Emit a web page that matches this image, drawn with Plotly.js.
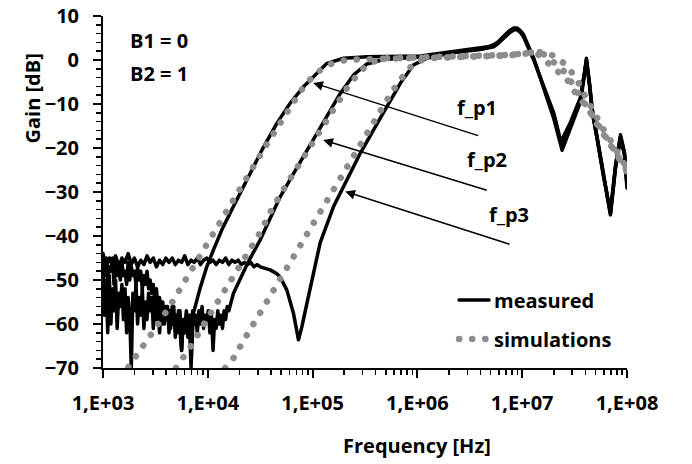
<!DOCTYPE html>
<html>
<head>
<meta charset="utf-8">
<script src="https://cdn.plot.ly/plotly-3.0.1.min.js"></script>
<style>
  html, body { margin: 0; padding: 0; background: #fff; }
  path.js-line { stroke-linecap: round; stroke-linejoin: round; }
</style>
</head>
<body>
<div id="chart" style="width:692px;height:464px;"></div>
<script>
// ---------- DATA ----------
const xTickVals = [1e3, 1e4, 1e5, 1e6, 1e7, 1e8];
const xTickText = ['1,E+03', '1,E+04', '1,E+05', '1,E+06', '1,E+07', '1,E+08'];

// measured, f_p1
const m1Freq = [1000,1035,1072,1109,1148,1189,1230,1274,1318,1365,1413,1462,1514,1567,1622,1679,1738,1799,1862,1928,1995,2065,2138,2213,2291,2371,2455,2541,2630,2723,2818,2917,3020,3126,3236,3350,3467,3589,3715,3846,3981,4121,4266,4416,4571,4732,4898,5070,5248,5433,5623,5821,6026,6237,6457,6683,6918,
  7278,8433,9772,11300,13610,17560,23580,32800,45600,61100,81800,109900,137100,197200,330400,
  1.067e6,1.656e6,2.57e6,3.99e6,4.7e6,5.35e6,6.0e6,6.65e6,7.5e6,8.30e6,8.91e6,9.6e6,1.033e7,1.288e7,1.603e7,2.0e7,2.404e7,2.884e7,3.597e7,3.87e7,4.10e7,4.40e7,4.65e7,5.188e7,6.0e7,6.95e7,7.76e7,8.67e7,9.46e7,1e8];
const m1Gain = [-46,-58,-50,-62,-49,-60,-52,-57,-50,-61,-53,-56,-51,-59,-52,-62,-54,-58,-70,-53,-57,-51,-60,-54,-58,-52,-61,-55,-59,-53,-57,-54,-61,-55,-59,-56,-62,-55,-60,-57,-58,-56,-62,-57,-60,-56,-63,-58,-61,-57,-66,-59,-62,-58,-63,-60,-70,
  -57.6,-51.9,-47,-43.2,-38.6,-33.3,-27.3,-20.5,-14.4,-9.8,-6.1,-3.0,-0.75,0.4,0.75,
  0.9,1.5,2.3,2.7,3.0,3.5,4.3,5.4,6.6,7.3,7.3,6.7,5.7,0.4,-6.4,-13.3,-20.5,-15.5,-9.5,-4.5,0.4,-5.5,-11,-17.5,-26.1,-35.2,-24.6,-17.8,-21.6,-29.1];

// measured, f_p2
const m2Freq = [1000,1035,1072,1109,1148,1189,1230,1274,1318,1365,1413,1462,1514,1567,1622,1679,1738,1799,1862,1928,1995,2065,2138,2213,2291,2371,2455,2541,2630,2723,2818,2917,3020,3126,3236,3350,3467,3589,3715,3846,3981,4121,4266,4416,4571,4732,4898,5070,5248,5433,5623,5821,6026,6237,6457,6683,6918,7161,7413,7674,7943,8222,8511,8810,9120,9441,9772,10116,10471,10839,11220,11614,12023,12445,12882,13335,13804,14289,14791,15311,15849,
  17580,19950,24430,31590,36600,49040,65710,88220,113900,137100,183700,246000,330400,475300,687100,
  1.067e6,1.656e6,2.57e6,3.99e6,4.7e6,5.35e6,6.0e6,6.65e6,7.5e6,8.30e6,8.91e6,9.6e6,1.033e7,1.288e7,1.603e7,2.0e7,2.37e7,2.884e7,3.597e7,3.87e7,4.10e7,4.40e7,4.65e7,5.188e7,6.0e7,6.95e7,7.76e7,8.67e7,9.46e7,1e8];
const m2Gain = [-46,-49,-45,-50,-47,-48,-45,-51,-46,-49,-47,-50,-46,-49,-48,-51,-46,-50,-47,-49,-48,-51,-47,-50,-48,-52,-49,-51,-48,-52,-50,-53,-51,-55,-52,-57,-54,-58,-55,-60,-56,-59,-57,-61,-56,-60,-58,-62,-57,-61,-66,-59,-62,-57,-60,-58,-63,-57,-60,-58,-62,-57,-60,-56,-61,-58,-59,-57,-62,-58,-66,-59,-61,-57,-60,-58,-61,-57,-59,-56,-57,
  -53,-50.3,-45.8,-40.9,-37.5,-31.1,-25.8,-20.5,-16,-12.9,-7.6,-3.4,-0.9,0.1,0.4,
  0.7,1.3,2.0,2.5,2.8,3.2,4.1,5.2,6.4,7.1,7.1,6.5,5.4,0.2,-6.0,-12.5,-19.3,-14.8,-8.8,-4.2,0.0,-5.8,-11.4,-17.8,-26.5,-35.0,-24.4,-17.4,-21.2,-28.5];

// measured, f_p3
const m3Freq = [1000,1072,1148,1230,1318,1413,1514,1622,1738,1862,1995,2138,2291,2455,2630,2818,3020,3236,3467,3715,3981,4266,4571,4898,5248,5623,6026,6457,6918,7413,7943,8511,9120,9772,10471,11220,12023,12882,13804,14791,15849,16982,18197,19498,20893,22387,23988,25704,27542,29512,31623,
  39360,45600,49040,56830,65710,73330,79070,88220,102000,118200,158500,212700,284900,381700,512500,686600,919800,1.235e6,
  1.656e6,2.57e6,3.99e6,4.7e6,5.35e6,6.0e6,6.65e6,7.5e6,8.30e6,8.91e6,9.6e6,1.033e7,1.288e7,1.603e7,2.0e7,2.34e7,2.884e7,3.597e7,3.87e7,4.10e7,4.40e7,4.65e7,5.188e7,6.0e7,6.95e7,7.76e7,8.67e7,9.46e7,1e8];
const m3Gain = [-44,-47,-45,-46.5,-44.5,-47,-45,-46,-44,-46.5,-45,-47,-45.5,-46.5,-44.5,-46,-45,-47,-45.5,-46.5,-45,-46,-45,-46.5,-45.5,-46,-44.5,-46.5,-45.5,-46,-45,-46.5,-45.5,-45,-46,-45.5,-46.5,-45.5,-46,-45,-46.5,-45.5,-46,-45.5,-46.5,-46,-46.5,-46,-47,-46.5,-47,
  -47.7,-48.6,-49.3,-52.3,-57.6,-63.6,-60.6,-55.3,-48.5,-41.5,-33.3,-27.3,-21.2,-15.9,-10.6,-5.3,-1.1,0.4,
  1.1,1.9,2.4,2.7,3.0,3.9,4.9,6.1,6.8,6.9,6.3,5.2,0.0,-5.8,-12.0,-18.6,-14.2,-8.5,-4.0,-0.3,-6.0,-11.8,-18.0,-26.8,-34.5,-24.0,-17.0,-21.0,-28.0];

// simulations
const s1Freq = [1744,2427,3350,4560,6166,8318,11070,14860,19910,26670,35810,47970,64860,76210,91410,112500,141900,183700,251200,398100,631000,1.0e6,1.585e6,2.512e6,3.981e6,6.31e6,1.0e7,1.288e7,1.778e7,2.317e7,2.78e7,3.342e7,3.864e7,4.315e7,5.0e7,6.0e7,7.228e7,8.356e7,9.683e7,1e8];
const s1Gain = [-69.8,-65,-60.1,-55.1,-50,-44.9,-39.9,-34.8,-29.7,-24.6,-19.5,-14.5,-9.6,-7.2,-4.8,-2.7,-1.1,-0.2,0.1,0.3,0.4,0.5,0.6,0.7,0.8,1.0,1.4,1.9,1.6,0.0,-1.9,-4.5,-7.6,-9.8,-12.5,-15.9,-18.9,-21.6,-24.2,-24.7];

const s2Freq = [4977,6067,7194,9638,13110,17560,23580,31590,40870,54730,73330,98470,137100,183700,212700,255200,306300,381700,493600,794300,1.259e6,1.995e6,3.162e6,5.012e6,7.943e6,1.122e7,1.349e7,1.66e7,2.042e7,2.512e7,3.02e7,3.548e7,4.169e7,5.012e7,6.026e7,7.244e7,8.511e7,1e8];
const s2Gain = [-70,-67,-64.4,-59.2,-54.2,-49.2,-44.2,-39.2,-33.9,-28.8,-23.9,-18.8,-13.6,-8.9,-6.4,-4.0,-1.9,-0.4,0.4,0.5,0.6,0.7,0.8,1.0,1.2,1.6,1.8,1.2,-0.6,-2.6,-5.4,-8.2,-10.8,-13.6,-16.8,-19.8,-22.6,-25.5];

const s3Freq = [14630,17340,23070,30900,41400,55590,74470,98400,131800,176600,237100,317700,425600,571500,676100,796200,955000,1.236e6,1.995e6,3.162e6,5.012e6,7.943e6,1.122e7,1.413e7,1.778e7,2.138e7,2.692e7,3.162e7,3.715e7,4.365e7,5.129e7,6.166e7,7.413e7,8.71e7,1e8];
const s3Gain = [-70,-68,-62.9,-57.8,-52.8,-47.7,-42.6,-37.3,-32.3,-27.3,-22.2,-17,-12,-7.2,-4.8,-2.4,-0.6,0.4,0.6,0.7,0.9,1.1,1.5,1.3,-0.75,-2.4,-4.5,-7.2,-9.1,-11.5,-14.5,-17.5,-20.3,-22.8,-25];

// ---------- STYLE ----------
const FONT = {family: 'Open Sans, sans-serif', size: 20, color: '#000', weight: 700};
const measLine = {color: '#000', width: 3.5};
const simLine = {color: '#8c8c8c', width: 6.5, dash: '0.1px,13px'};

// minor log ticks (2..9 in each decade)
const minorX = [];
for (let d = 3; d < 8; d++) for (let k = 2; k <= 9; k++) minorX.push(k * Math.pow(10, d));

const traces = [
  {x: m1Freq, y: m1Gain, name: 'measured', mode: 'lines', line: measLine, showlegend: true, legend: 'legend'},
  {x: m2Freq, y: m2Gain, name: 'measured', mode: 'lines', line: measLine, showlegend: false},
  {x: m3Freq, y: m3Gain, name: 'measured', mode: 'lines', line: measLine, showlegend: false},
  {x: s1Freq, y: s1Gain, name: 'simulations', mode: 'lines', line: simLine, showlegend: true, legend: 'legend2'},
  {x: s2Freq, y: s2Gain, name: 'simulations', mode: 'lines', line: simLine, showlegend: false, legend: 'legend2'},
  {x: s3Freq, y: s3Gain, name: 'simulations', mode: 'lines', line: simLine, showlegend: false, legend: 'legend2'}
];

function arrow(x, y, ax, ay) {
  return {x: x, y: y, ax: ax, ay: ay, xref: 'x', yref: 'y', axref: 'x', ayref: 'y',
    text: '', showarrow: true, arrowhead: 2, arrowsize: 1.3, arrowwidth: 1.5, arrowcolor: '#000', standoff: 0};
}
function label(text, x, y) {
  return {x: x, y: y, xref: 'x', yref: 'y', text: text, showarrow: false, xanchor: 'center', yanchor: 'middle', font: FONT};
}

const layout = {
  width: 692, height: 464,
  margin: {l: 103, r: 65, t: 16, b: 96, pad: 0},
  paper_bgcolor: '#fff', plot_bgcolor: '#fff',
  font: FONT,
  xaxis: {
    type: 'log', range: [3, 8],
    tickmode: 'array', tickvals: xTickVals, ticktext: xTickText,
    ticks: 'outside', ticklen: 8, tickwidth: 2, tickcolor: '#000',
    ticklabelstandoff: 8,
    minor: {tickmode: 'array', tickvals: minorX, ticks: 'outside', ticklen: 5, tickwidth: 1.5, tickcolor: '#000', showgrid: false},
    showline: true, linecolor: '#000', linewidth: 2,
    showgrid: false, zeroline: false, tickfont: FONT
  },
  yaxis: {
    range: [-70, 10], dtick: 10, tick0: 0,
    ticks: 'outside', ticklen: 8, tickwidth: 2, tickcolor: '#000',
    ticklabelstandoff: 10,
    minor: {ticks: 'outside', dtick: 2, ticklen: 5, tickwidth: 1.5, tickcolor: '#000', showgrid: false},
    showline: true, linecolor: '#000', linewidth: 2,
    showgrid: false, zeroline: false, tickfont: FONT
  },
  legend: {x: 0.67, xanchor: 'left', y: 0.1932, yanchor: 'middle', bgcolor: 'rgba(0,0,0,0)', borderwidth: 0, font: FONT},
  legend2: {x: 0.67, xanchor: 'left', y: 0.0824, yanchor: 'middle', bgcolor: 'rgba(0,0,0,0)', borderwidth: 0, font: FONT},
  annotations: [
    {text: 'Gain [dB]', xref: 'paper', yref: 'paper', x: -0.1336, y: 0.7656, textangle: -90, showarrow: false, xanchor: 'center', yanchor: 'middle', font: FONT},
    {text: 'Frequency [Hz]', xref: 'paper', yref: 'paper', x: 0.599, y: -0.21875, showarrow: false, xanchor: 'center', yanchor: 'middle', font: FONT},
    {text: 'B1 = 0', xref: 'paper', yref: 'paper', x: 0.0477, y: 0.929, showarrow: false, xanchor: 'left', yanchor: 'middle', font: FONT},
    {text: 'B2 = 1', xref: 'paper', yref: 'paper', x: 0.0477, y: 0.838, showarrow: false, xanchor: 'left', yanchor: 'middle', font: FONT},
    arrow(5.0057, -5.2, 6.594, -17.3),
    arrow(5.101, -18.2, 6.677, -29.7),
    arrow(5.311, -29.9, 6.894, -42),
    label('f_p1', 6.565, -10.7),
    label('f_p2', 6.668, -22.7),
    label('f_p3', 6.878, -35.2)
  ]
};

Plotly.newPlot('chart', traces, layout, {staticPlot: true, displayModeBar: false});
</script>
</body>
</html>
